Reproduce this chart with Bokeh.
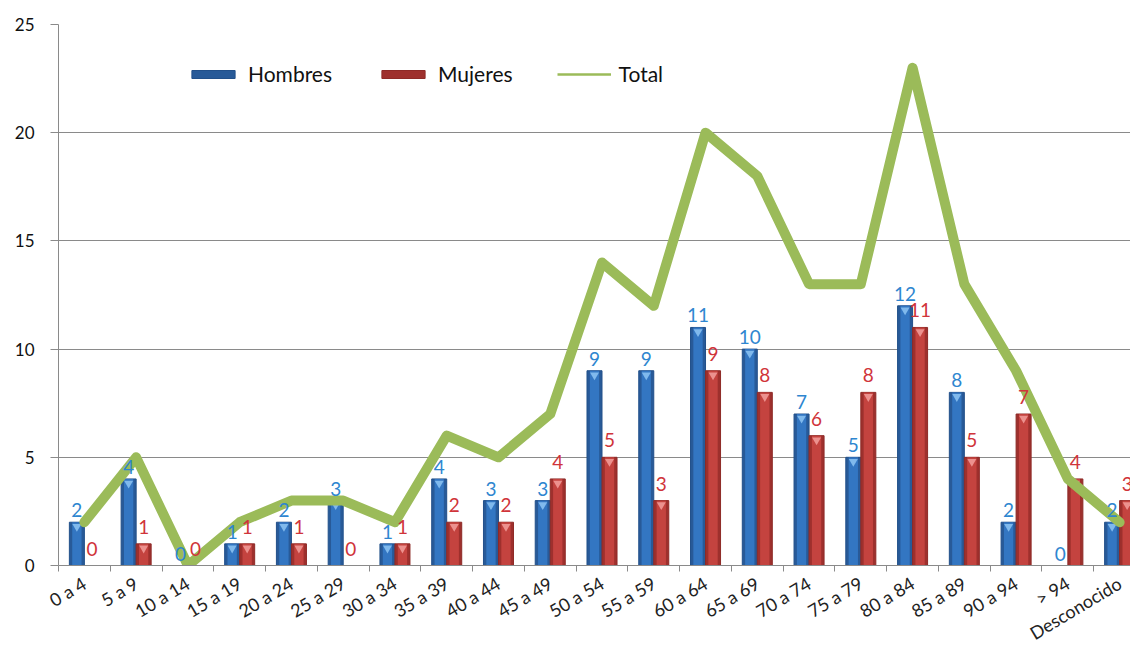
import numpy as np
from bokeh.plotting import figure
from bokeh.models import ColumnDataSource, Range1d, FixedTicker, Legend, LegendItem
from bokeh.core.properties import value
from bokeh.transform import dodge
from bokeh.embed import file_html
from bokeh.resources import INLINE

categories = ["0 a 4", "5 a 9", "10 a 14", "15 a 19", "20 a 24", "25 a 29", "30 a 34",
              "35 a 39", "40 a 44", "45 a 49", "50 a 54", "55 a 59", "60 a 64", "65 a 69",
              "70 a 74", "75 a 79", "80 a 84", "85 a 89", "90 a 94", "> 94", "Desconocido"]
hombres = [2, 4, 0, 1, 2, 3, 1, 4, 3, 3, 9, 9, 11, 10, 7, 5, 12, 8, 2, 0, 2]
mujeres = [0, 1, 0, 1, 1, 0, 1, 2, 2, 4, 5, 3, 9, 8, 6, 8, 11, 5, 7, 4, 3]
total = [2, 5, 0, 2, 3, 3, 2, 6, 5, 7, 14, 12, 20, 18, 13, 13, 23, 13, 9, 4, 2]
y_ticks = [0, 5, 10, 15, 20, 25]

FONT = "Lato"
x = np.arange(len(categories))
off = 0.145
src = ColumnDataSource(dict(
    x=x, xh=x - off, xm=x + off,
    h=hombres, m=mujeres, t=total,
    hl=[str(v) for v in hombres], ml=[str(v) for v in mujeres],
))
hpos = [i for i, v in enumerate(hombres) if v > 0]
mpos = [i for i, v in enumerate(mujeres) if v > 0]
src_h = ColumnDataSource(dict(x=[i - off for i in hpos], h=[hombres[i] for i in hpos]))
src_m = ColumnDataSource(dict(x=[i + off for i in mpos], m=[mujeres[i] for i in mpos]))

p = figure(width=1130, height=656, x_range=Range1d(-0.5, 20.21), y_range=Range1d(0, 25),
           output_backend="svg", toolbar_location=None,
           min_border_left=58, min_border_top=24, min_border_bottom=91, min_border_right=0)
p.outline_line_color = None
p.background_fill_color = "white"

GRAY = "#8A8A8A"
p.xgrid.visible = False
p.ygrid.grid_line_color = GRAY
p.ygrid.grid_line_width = 1

# Bars: outer (edge shade) + inner body + top bevel
bw = 0.29
rh = p.vbar(x='xh', top='h', width=bw, source=src, fill_color="#285A98", line_color="#22508A", line_width=1)
p.vbar(x='xh', top='h', width=bw * 0.62, source=src, fill_color="#3376C2", line_color=None)
rm = p.vbar(x='xm', top='m', width=bw, source=src, fill_color="#9E302D", line_color="#8E2A27", line_width=1)
p.vbar(x='xm', top='m', width=bw * 0.62, source=src, fill_color="#C4433F", line_color=None)
p.scatter(x='x', y=dodge('h', -0.2), source=src_h, marker="inverted_triangle", size=9,
          fill_color="#80B9EC", line_color=None)
p.scatter(x='x', y=dodge('m', -0.2), source=src_m, marker="inverted_triangle", size=9,
          fill_color="#EC918E", line_color=None)

# Total line (thin one for the legend, thick one on top)
rt = p.line(x='x', y='t', source=src, line_color="#9BBB59", line_width=2.5)
p.line(x='x', y='t', source=src, line_color="#9BBB59", line_width=10,
       line_join="round", line_cap="round")

# Data labels
p.text(x='xh', y='h', text='hl', source=src, text_align="center", text_baseline="bottom",
       y_offset=-5, text_color="#2E86D0", text_font=value(FONT), text_font_size="19px")
p.text(x='xm', y='m', text='ml', source=src, text_align="center", text_baseline="bottom",
       x_offset=0, y_offset=-10, text_color="#D0343A", text_font=value(FONT), text_font_size="19px")

# Axes
xa = p.xaxis[0]
xa.ticker = FixedTicker(ticks=list(x), minor_ticks=[i - 0.5 for i in range(len(categories) + 1)])
xa.major_label_overrides = {int(i): c for i, c in zip(x, categories)}
xa.major_label_orientation = 0.54
xa.major_tick_out = 0
xa.major_tick_in = 0
xa.minor_tick_out = 6
xa.minor_tick_in = 0
xa.minor_tick_line_color = GRAY
xa.axis_line_color = GRAY
xa.major_label_text_font = FONT
xa.major_label_text_font_size = "18px"
xa.major_label_text_color = "#222222"
xa.major_label_standoff = 10

ya = p.yaxis[0]
ya.ticker = FixedTicker(ticks=y_ticks)
ya.major_tick_out = 8
ya.major_tick_in = 0
ya.minor_tick_out = 0
ya.minor_tick_in = 0
ya.major_tick_line_color = GRAY
ya.axis_line_color = GRAY
ya.major_label_text_font = FONT
ya.major_label_text_font_size = "17px"
ya.major_label_text_color = "#111111"
ya.major_label_standoff = 16

legend = Legend(items=[LegendItem(label="Hombres", renderers=[rh]),
                       LegendItem(label="Mujeres", renderers=[rm]),
                       LegendItem(label="Total", renderers=[rt])],
                orientation="horizontal", location=(128, 479),
                glyph_width=54, glyph_height=10, label_standoff=8, spacing=44,
                padding=0, margin=0, border_line_color=None, background_fill_alpha=0,
                label_text_font=FONT, label_text_font_size="21px", label_text_color="#111111")
p.add_layout(legend)

open("out.html", "w").write(file_html(p, INLINE))
